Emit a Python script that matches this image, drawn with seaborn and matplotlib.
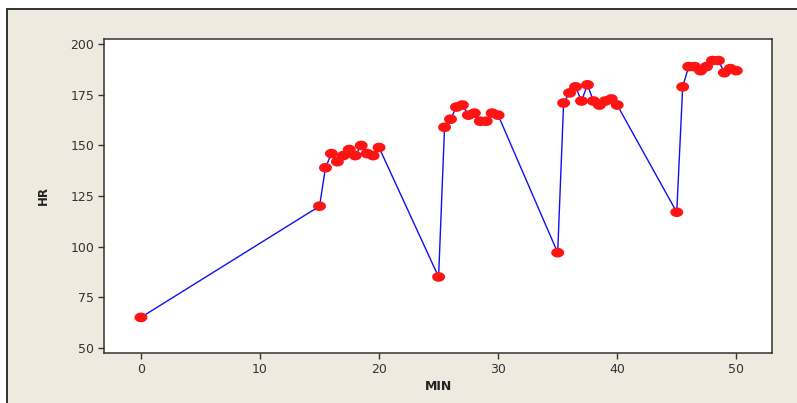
import numpy as np
import pandas as pd
import matplotlib
matplotlib.use("Agg")
import matplotlib.pyplot as plt
from matplotlib.patches import Rectangle
import seaborn as sns

# ---- data ----
minutes = [0,
           15, 15.5, 16, 16.5, 17, 17.5, 18, 18.5, 19, 19.5, 20,
           25, 25.5, 26, 26.5, 27, 27.5, 28, 28.5, 29, 29.5, 30,
           35, 35.5, 36, 36.5, 37, 37.5, 38, 38.5, 39, 39.5, 40,
           45, 45.5, 46, 46.5, 47, 47.5, 48, 48.5, 49, 49.5, 50]
hr = [65,
      120, 139, 146, 142, 145, 148, 145, 150, 146, 145, 149,
      85, 159, 163, 169, 170, 165, 166, 162, 162, 166, 165,
      97, 171, 176, 179, 172, 180, 172, 170, 172, 173, 170,
      117, 179, 189, 189, 187, 189, 192, 192, 186, 188, 187]
x_ticks = [0, 10, 20, 30, 40, 50]
y_ticks = [50, 75, 100, 125, 150, 175, 200]

df = pd.DataFrame({"MIN": minutes, "HR": hr})

sns.set_theme(style="white")
plt.rcParams["font.family"] = ["DejaVu Sans"]

W, H = 797, 403
fig = plt.figure(figsize=(W / 100, H / 100), dpi=100, facecolor="white")

# beige panel with dark frame (left and top visible)
panel = Rectangle((7 / W, -0.1), 1.2, (H - 9) / H + 0.1,
                  transform=fig.transFigure, facecolor="#EEEAE0",
                  edgecolor="#222222", linewidth=1.3, zorder=-5)
fig.add_artist(panel)

ax = fig.add_axes([104 / W, (H - 353) / H, (772 - 104) / W, (353 - 38.7) / H])
ax.set_zorder(1)
ax.set_facecolor("white")

sns.lineplot(data=df, x="MIN", y="HR", ax=ax, color="#1010F0", linewidth=1.0,
             sort=False, estimator=None, zorder=2)

t = np.linspace(0, 2 * np.pi, 40)
ellipse = list(zip(np.cos(t), 0.75 * np.sin(t)))
sns.scatterplot(data=df, x="MIN", y="HR", ax=ax, marker=ellipse, s=9.3 ** 2,
                color="#FF1414", edgecolor="none", linewidth=0, zorder=3)

ax.set_xlim(-3.1, 53)
ax.set_ylim(47.4, 202.8)
ax.set_xticks(x_ticks)
ax.set_yticks(y_ticks)

for s in ax.spines.values():
    s.set_visible(True)
    s.set_color("#333333")
    s.set_linewidth(1.1)

ax.tick_params(axis="both", which="major", direction="out", length=4, width=1.0,
               color="#333333", labelcolor="#333333", labelsize=9, pad=3,
               bottom=True, left=True)

ax.set_xlabel("MIN", fontsize=9, fontweight="bold", color="#222222", labelpad=3)
ax.set_ylabel("HR", fontsize=8.5, fontweight="bold", color="#222222", labelpad=15)

fig.savefig("out.png", dpi=100, facecolor=fig.get_facecolor())
